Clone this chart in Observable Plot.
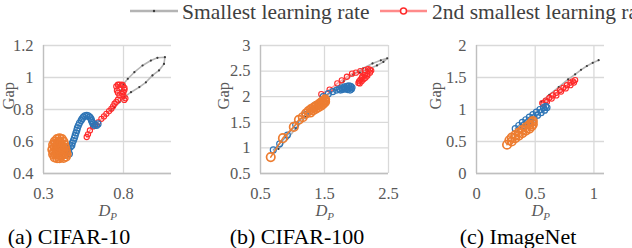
<!DOCTYPE html>
<html>
<head>
<meta charset="utf-8">
<script src="https://cdn.jsdelivr.net/npm/d3@7"></script>
<script src="https://cdn.jsdelivr.net/npm/@observablehq/plot@0.6"></script>
<style>
  html, body { margin: 0; padding: 0; width: 632px; height: 248px; overflow: hidden; background: #fff; }
  #root { position: relative; width: 632px; height: 248px; overflow: hidden; font-family: "Liberation Serif", "Times New Roman", serif; }
  .panel { position: absolute; top: 0; }
  .cap { position: absolute; top: 224px; font-size: 22px; color: #000; white-space: nowrap; transform: translateX(-50%); }
  #legend { position: absolute; left: 0; top: 0; }
  svg text { font-family: "Liberation Serif", "Times New Roman", serif; }
</style>
</head>
<body>
<div id="root"></div>
<script>
// ---------- data ----------
const seriesNames = ["Smallest learning rate", "2nd smallest learning rate"];
const captions = ["(a) CIFAR-10", "(b) CIFAR-100", "(c) ImageNet"];

// Panel (a) CIFAR-10
const aXTicks = [0.3, 0.8];
const aYTicks = [0.4, 0.6, 0.8, 1, 1.2];
const aGray = [[0.724,0.794],[0.744,0.814],[0.775,0.846],[0.806,0.877],[0.847,0.908],[0.899,0.94],[0.94,0.97],[0.981,1.013],[1.022,1.044],[1.053,1.085],[1.059,1.127],[1.012,1.123],[0.971,1.106],[0.919,1.075],[0.868,1.033],[0.827,0.992],[0.80,0.96],[0.786,0.919]];
const aRed = [[0.57,0.628],[0.578,0.645],[0.59,0.669],[0.61,0.694],[0.625,0.706],[0.641,0.72],[0.662,0.742],[0.678,0.757],[0.693,0.773],[0.71,0.79],[0.724,0.804],[0.735,0.82],[0.744,0.836],[0.755,0.848],[0.765,0.861],[0.775,0.888],[0.765,0.905],[0.759,0.919],[0.755,0.944],[0.765,0.955],[0.775,0.956],[0.79,0.955],[0.796,0.95],[0.806,0.935],[0.806,0.923],[0.80,0.91],[0.792,0.898],[0.80,0.885],[0.812,0.87],[0.805,0.86]];
const aBlue = [[0.462,0.523],[0.456,0.54],[0.456,0.554],[0.468,0.566],[0.477,0.575],[0.48,0.59],[0.487,0.606],[0.493,0.622],[0.498,0.638],[0.503,0.654],[0.508,0.669],[0.512,0.685],[0.518,0.70],[0.525,0.715],[0.535,0.731],[0.541,0.742],[0.549,0.752],[0.558,0.76],[0.57,0.763],[0.58,0.76],[0.59,0.752],[0.597,0.742],[0.60,0.731],[0.605,0.72],[0.61,0.71],[0.62,0.70],[0.631,0.70],[0.641,0.71]];
const aOrange = [[0.40,0.62],[0.385,0.615],[0.37,0.60],[0.36,0.58],[0.355,0.55],[0.36,0.52],[0.37,0.50],[0.385,0.495],[0.40,0.495],[0.425,0.497],[0.44,0.505],[0.445,0.52],[0.44,0.54],[0.435,0.56],[0.43,0.58],[0.425,0.60],[0.415,0.615],[0.40,0.60],[0.39,0.58],[0.38,0.55],[0.375,0.52],[0.39,0.51],[0.405,0.52],[0.41,0.55],[0.41,0.58],[0.42,0.56],[0.42,0.53],[0.395,0.535],[0.39,0.56],[0.37,0.565],[0.365,0.535],[0.385,0.525],[0.43,0.52],[0.425,0.545],[0.40,0.57],[0.375,0.585],[0.395,0.595],[0.41,0.51]];

// Panel (b) CIFAR-100
const bXTicks = [0.5, 1.5, 2.5];
const bYTicks = [0.5, 1, 1.5, 2, 2.5, 3];
const bGray = [[0.78,0.98],[0.92,1.18],[1.05,1.38],[1.2,1.6],[1.35,1.8],[1.5,1.98],[1.65,2.14],[1.8,2.3],[1.95,2.43],[2.1,2.55],[2.25,2.65],[2.38,2.71],[2.48,2.75],[2.42,2.68],[2.32,2.61],[2.17,2.53],[2.05,2.47]];
const bRed = [[1.45,2.05],[1.58,2.14],[1.70,2.26],[1.77,2.32],[1.85,2.39],[1.93,2.45],[1.99,2.47],[2.06,2.50],[2.13,2.52],[2.18,2.54],[2.21,2.53],[2.23,2.51],[2.21,2.47],[2.17,2.44],[2.13,2.42],[2.09,2.39],[2.08,2.36],[2.06,2.33],[2.04,2.30],[2.03,2.27],[2.05,2.26],[2.08,2.30],[2.11,2.34],[2.14,2.37],[2.17,2.41]];
const bBlue = [[0.70,0.96],[0.80,1.08],[0.92,1.25],[1.05,1.45],[1.2,1.65],[1.35,1.83],[1.48,2.0],[1.56,2.06],[1.63,2.10],[1.69,2.13],[1.73,2.15],[1.77,2.17],[1.81,2.19],[1.85,2.20],[1.88,2.21],[1.91,2.20],[1.93,2.18],[1.92,2.15],[1.90,2.13],[1.86,2.14],[1.82,2.15],[1.78,2.14],[1.75,2.13],[1.80,2.17],[1.86,2.17],[1.90,2.17]];
const bOrange = [[0.66,0.82],[0.85,1.19],[1.02,1.41],[1.10,1.55],[1.16,1.60],[1.21,1.67],[1.25,1.72],[1.28,1.69],[1.29,1.76],[1.32,1.73],[1.33,1.79],[1.36,1.76],[1.37,1.82],[1.40,1.79],[1.41,1.85],[1.44,1.82],[1.44,1.88],[1.47,1.85],[1.47,1.91],[1.49,1.88],[1.50,1.93],[1.51,1.90],[1.51,1.95]];

// Panel (c) ImageNet
const cXTicks = [0, 0.5, 1];
const cYTicks = [0, 0.5, 1, 1.5, 2];
const cGray = [[0.55,1.12],[0.62,1.23],[0.70,1.35],[0.78,1.47],[0.84,1.55],[0.89,1.62],[0.94,1.68],[0.99,1.73],[1.04,1.77]];
const cRed = [[0.56,1.10],[0.59,1.14],[0.62,1.18],[0.65,1.22],[0.68,1.26],[0.71,1.30],[0.74,1.34],[0.77,1.38],[0.80,1.42],[0.82,1.44],[0.84,1.46],[0.83,1.42],[0.80,1.38],[0.76,1.33],[0.72,1.28],[0.68,1.22],[0.64,1.17],[0.60,1.12],[0.57,1.08]];
const cBlue = [[0.33,0.70],[0.36,0.75],[0.39,0.80],[0.42,0.84],[0.45,0.88],[0.48,0.92],[0.51,0.96],[0.54,1.0],[0.57,1.03],[0.59,1.05],[0.60,1.03],[0.58,0.99],[0.55,0.95],[0.52,0.91],[0.49,0.87],[0.46,0.83],[0.43,0.79],[0.40,0.75]];
const cOrange = [[0.26,0.45],[0.28,0.52],[0.30,0.50],[0.30,0.56],[0.33,0.55],[0.33,0.60],[0.36,0.59],[0.36,0.64],[0.39,0.63],[0.39,0.68],[0.42,0.67],[0.42,0.72],[0.45,0.70],[0.45,0.76],[0.47,0.74],[0.47,0.80],[0.48,0.77],[0.48,0.82]];

// ---------- styling ----------
const GRAY_LINE = "#b4b4b4", GRAY_DOT = "#3a3a3a";
const RED = "#ff2a2a", BLUE = "#2e75b6", ORANGE = "#ed7d31";
const TICK = "#595959";
const FONT = "'Liberation Serif', 'Times New Roman', serif";

const root = document.getElementById("root");

function panel(cfg) {
  const mL = 46, mR = 12, mT = 45, mB = 75, plotW = 128, H = 248;
  const xy = {x: d => d[0], y: d => d[1]};
  const chart = Plot.plot({
    width: mL + plotW + mR, height: H,
    marginLeft: mL, marginRight: mR, marginTop: mT, marginBottom: mB,
    style: {fontFamily: FONT, fontSize: "16.5px", color: TICK, background: "transparent", overflow: "visible"},
    x: {domain: cfg.xDomain, ticks: cfg.xTicks, tickSize: 0, tickPadding: 14, tickFormat: d => String(d), label: null},
    y: {domain: cfg.yDomain, ticks: cfg.yTicks, tickSize: 0, tickPadding: 10, tickFormat: d => String(d), label: null},
    marks: [
      Plot.ruleY(cfg.yTicks, {y: d => d, stroke: "#d9d9d9", strokeWidth: 1.3}),
      Plot.ruleX(cfg.xTicks, {x: d => d, stroke: "#d9d9d9", strokeWidth: 1.3}),
      Plot.ruleX([cfg.xDomain[0]], {x: d => d, stroke: "#bfbfbf", strokeWidth: 1.3}),
      Plot.ruleY([cfg.yDomain[0]], {y: d => d, stroke: "#bfbfbf", strokeWidth: 1.3}),
      Plot.line(cfg.gray, {...xy, stroke: GRAY_LINE, strokeWidth: 1.6}),
      Plot.dot(cfg.gray, {...xy, r: 1.1, fill: GRAY_DOT, stroke: "none"}),
      Plot.line(cfg.red, {...xy, stroke: RED, strokeOpacity: 0.45, strokeWidth: 1.6}),
      Plot.dot(cfg.red, {...xy, r: 2.6, fill: "none", stroke: RED, strokeWidth: 1.1}),
      Plot.line(cfg.blue, {...xy, stroke: BLUE, strokeOpacity: 0.7, strokeWidth: 1.4}),
      Plot.dot(cfg.blue, {...xy, r: 3, fill: "none", stroke: BLUE, strokeWidth: 1.2}),
      Plot.line(cfg.orange, {...xy, stroke: ORANGE, strokeWidth: 1.6}),
      Plot.dot(cfg.orange, {...xy, r: 4.2, fill: "none", stroke: ORANGE, strokeWidth: 1.7}),
      Plot.text(["Gap"], {frameAnchor: "left", rotate: -90, dx: cfg.gapDx, fill: TICK, fontSize: 16.5}),
      Plot.text(["D"], {frameAnchor: "bottom", dx: -3, dy: 42, fontStyle: "italic", fill: TICK, fontSize: 16.5}),
      Plot.text(["P"], {frameAnchor: "bottom", dx: 6, dy: 46, fontStyle: "italic", fill: TICK, fontSize: 11})
    ]
  });
  const wrap = document.createElement("div");
  wrap.className = "panel";
  wrap.style.left = (cfg.left - mL) + "px";
  wrap.appendChild(chart);
  root.appendChild(wrap);
}

panel({left: 43, xDomain: [0.3, 1.1], yDomain: [0.4, 1.2], xTicks: aXTicks, yTicks: aYTicks, gray: aGray, red: aRed, blue: aBlue, orange: aOrange, gapDx: -35});
panel({left: 260, xDomain: [0.5, 2.5], yDomain: [0.5, 3], xTicks: bXTicks, yTicks: bYTicks, gray: bGray, red: bRed, blue: bBlue, orange: bOrange, gapDx: -37});
panel({left: 476, xDomain: [0, 1.09], yDomain: [0, 2], xTicks: cXTicks, yTicks: cYTicks, gray: cGray, red: cRed, blue: cBlue, orange: cOrange, gapDx: -41});

// captions
const capX = [69, 297, 518];
captions.forEach((t, i) => {
  const d = document.createElement("div");
  d.className = "cap";
  d.style.left = capX[i] + "px";
  d.textContent = t;
  root.appendChild(d);
});

// legend
const svg = d3.select(root).append("svg").attr("id", "legend").attr("width", 632).attr("height", 30);
const leg = [
  {x0: 130, x1: 178, name: seriesNames[0], tx: 182, kind: "gray"},
  {x0: 380, x1: 427, name: seriesNames[1], tx: 432, kind: "red"}
];
leg.forEach(l => {
  const g = svg.append("g");
  if (l.kind === "gray") {
    g.append("line").attr("x1", l.x0).attr("x2", l.x1).attr("y1", 11).attr("y2", 11).attr("stroke", GRAY_LINE).attr("stroke-width", 2.5);
    g.append("circle").attr("cx", (l.x0 + l.x1) / 2).attr("cy", 11).attr("r", 1.2).attr("fill", GRAY_DOT);
  } else {
    g.append("line").attr("x1", l.x0).attr("x2", l.x1).attr("y1", 11).attr("y2", 11).attr("stroke", RED).attr("stroke-opacity", 0.55).attr("stroke-width", 2.5);
    g.append("circle").attr("cx", (l.x0 + l.x1) / 2).attr("cy", 11).attr("r", 3).attr("fill", "#fff").attr("stroke", RED).attr("stroke-width", 1.5);
  }
  g.append("text").attr("x", l.tx).attr("y", 19).style("font-family", FONT).attr("font-size", 21.5).attr("fill", "#404040").text(l.name);
});
</script>
</body>
</html>
